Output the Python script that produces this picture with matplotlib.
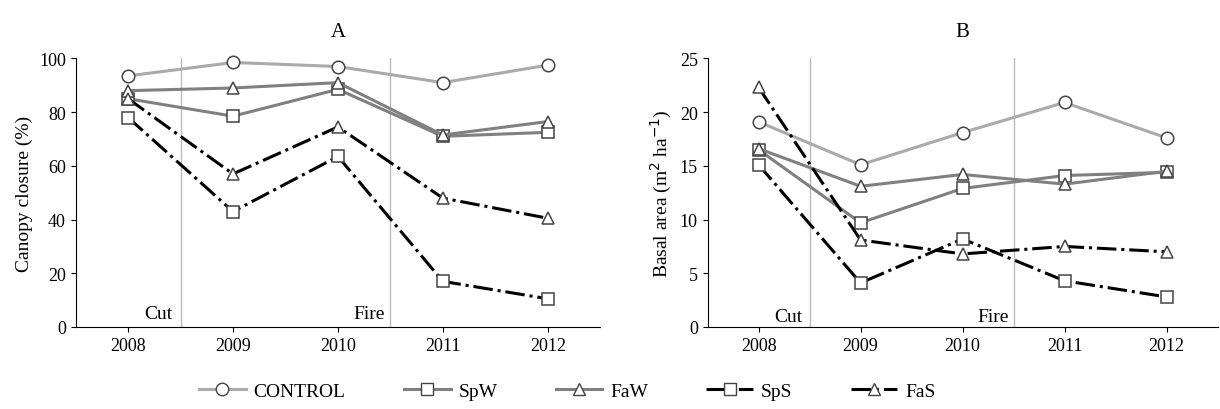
import matplotlib.pyplot as plt
from matplotlib.lines import Line2D

plt.rcParams['font.family'] = ['Liberation Serif', 'DejaVu Serif']

years = [2008, 2009, 2010, 2011, 2012]
series = ["CONTROL", "SpW", "FaW", "SpS", "FaS"]

canopy = {
    "CONTROL": [93.5, 98.5, 97, 91, 97.5],
    "SpW": [85, 78.5, 88.5, 71, 72.5],
    "FaW": [88, 89, 91, 71.5, 76.5],
    "SpS": [78, 43, 63.5, 17, 10.5],
    "FaS": [85, 57, 74.5, 48, 40.5],
}
basal = {
    "CONTROL": [19.1, 15.1, 18.1, 20.9, 17.6],
    "SpW": [16.5, 9.7, 12.9, 14.1, 14.4],
    "FaW": [16.6, 13.1, 14.2, 13.3, 14.5],
    "SpS": [15.1, 4.1, 8.2, 4.3, 2.8],
    "FaS": [22.3, 8.1, 6.8, 7.5, 7.0],
}

styles = {
    "CONTROL": dict(color="#aaaaaa", ls="-", marker="o"),
    "SpW": dict(color="#808080", ls="-", marker="s"),
    "FaW": dict(color="#808080", ls="-", marker="^"),
    "SpS": dict(color="black", ls="-.", marker="s"),
    "FaS": dict(color="black", ls="-.", marker="^"),
}

fig = plt.figure(figsize=(12.2, 4.1), dpi=100)
axA = fig.add_axes([0.062, 0.2, 0.43, 0.655])
axB = fig.add_axes([0.58, 0.2, 0.418, 0.655])


def draw(ax, data, ylim, yticks, ylabel, title, label_y):
    ax.axvline(2008.5, color="#bbbbbb", lw=1)
    ax.axvline(2010.5, color="#bbbbbb", lw=1)
    for s in series:
        st = styles[s]
        ax.plot(years, data[s], color=st["color"], ls=st["ls"], lw=2.2,
                marker=st["marker"], ms=9, mfc="white", mec="#444444", mew=1.1,
                clip_on=False)
    ax.set_xlim(2007.5, 2012.5)
    ax.set_ylim(*ylim)
    ax.set_yticks(yticks)
    ax.set_xticks(years)
    ax.set_ylabel(ylabel, fontsize=14)
    ax.set_title(title, fontsize=15, pad=16)
    ax.tick_params(labelsize=13, direction="out")
    for sp in ["top", "right"]:
        ax.spines[sp].set_visible(False)
    ax.text(2008.15, label_y, "Cut", fontsize=14)
    ax.text(2010.15, label_y, "Fire", fontsize=14)


draw(axA, canopy, (0, 100), range(0, 101, 20), "Canopy closure (%)", "A", 3.5)
draw(axB, basal, (0, 25), range(0, 26, 5), "Basal area (m$^2$ ha$^{-1}$)", "B", 0.6)

handles = [Line2D([], [], color=styles[s]["color"], ls=styles[s]["ls"], lw=2.2,
                  marker=styles[s]["marker"], ms=9, mfc="white", mec="#444444")
           for s in series]
fig.legend(handles, series, loc="lower center", ncol=5, frameon=False,
           fontsize=14, bbox_to_anchor=(0.465, -0.02), handlelength=2.4,
           handletextpad=0.4, columnspacing=3.0)

fig.savefig("out.png")
